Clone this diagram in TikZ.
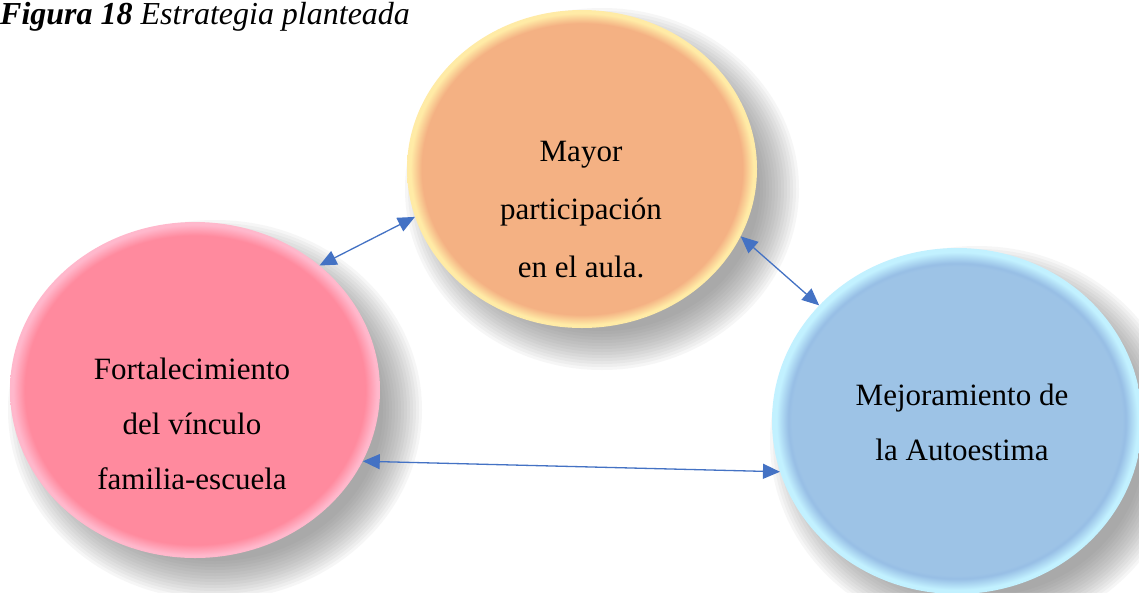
\documentclass[tikz,border=0pt]{standalone}
\usepackage{fontspec}
\setmainfont{Liberation Serif}
\usetikzlibrary{shapes.geometric,arrows.meta,backgrounds}
\definecolor{orfill}{HTML}{F4B183}
\definecolor{orrim}{HTML}{FFEBA6}
\definecolor{pkfill}{HTML}{FF8A9E}
\definecolor{pkrim}{HTML}{FFB8CC}
\definecolor{blfill}{HTML}{9DC3E6}
\definecolor{blring}{HTML}{97BEE5}
\definecolor{blrim}{HTML}{C2F1FF}
\definecolor{arrowblue}{HTML}{4472C4}
\definecolor{shadowgray}{HTML}{707070}
\pgfdeclareradialshading{orangeglow}{\pgfpoint{0bp}{0bp}}{color(0bp)=(orfill); color(22.9bp)=(orfill); color(24.5bp)=(orrim); color(25bp)=(orrim); color(50bp)=(orrim)}
\pgfdeclareradialshading{pinkglow}{\pgfpoint{0bp}{0bp}}{color(0bp)=(pkfill); color(23bp)=(pkfill); color(24.6bp)=(pkrim); color(25bp)=(pkrim); color(50bp)=(pkrim)}
\pgfdeclareradialshading{blueglow}{\pgfpoint{0bp}{0bp}}{color(0bp)=(blfill); color(22.3bp)=(blfill); color(22.8bp)=(blring); color(24.4bp)=(blrim); color(25bp)=(blrim); color(50bp)=(blrim)}
\tikzset{
  bubble/.style={ellipse, inner sep=0pt, draw=none},
  bubbletext/.style={align=center, inner sep=0pt},
  shadowstep/.style={fill=shadowgray, opacity=0.06},
  biarrow/.style={draw=arrowblue, line width=1.3pt,
    {Triangle[length=17pt,width=15pt]}-{Triangle[length=17pt,width=15pt]}},
}
\newcommand{\softshadow}[3]{%
  \foreach \s in {0,...,13}{%
    \fill[shadowstep] ([shift={(20,20)}]#1.center) ellipse [x radius={#2+22-3*\s}, y radius={#3+22-3*\s}];
  }}
\begin{document}
\begin{tikzpicture}[x=1pt,y=-1pt]
\useasboundingbox (0,0) rectangle (1139,592);
\node[anchor=base west, inner sep=0pt, font=\fontsize{32}{32}\selectfont] (title) at (0,24) {\textbf{\textit{Figura 18}} \textit{Estrategia planteada}};
\node[bubble, shading=orangeglow, minimum width=350pt, minimum height=318pt] (orange) at (582,169) {};
\node[bubble, shading=pinkglow, minimum width=370pt, minimum height=336pt] (pink) at (195,390) {};
\node[bubble, shading=blueglow, minimum width=370pt, minimum height=346pt] (blue) at (957,421) {};
\begin{scope}[on background layer]
  \fill[white] (0,0) rectangle (1139,592);
  \softshadow{orange}{175}{159}
  \softshadow{pink}{185}{168}
  \softshadow{blue}{185}{173}
\end{scope}
\node[bubbletext, font=\fontsize{31}{58}\selectfont] (ot) at (581,210) {Mayor\\participación\\en el aula.};
\node[bubbletext, font=\fontsize{31}{55}\selectfont] (pt) at (192,424) {Fortalecimiento\\del vínculo\\familia-escuela};
\node[bubbletext, font=\fontsize{31}{55}\selectfont] (bt) at (962,422) {Mejoramiento de\\la Autoestima};
\draw[biarrow] (pink.45) -- (orange.196);
\draw[biarrow] (orange.-23) -- (blue.140);
\draw[biarrow] (pink.-23) -- (blue.196);
\end{tikzpicture}
\end{document}
